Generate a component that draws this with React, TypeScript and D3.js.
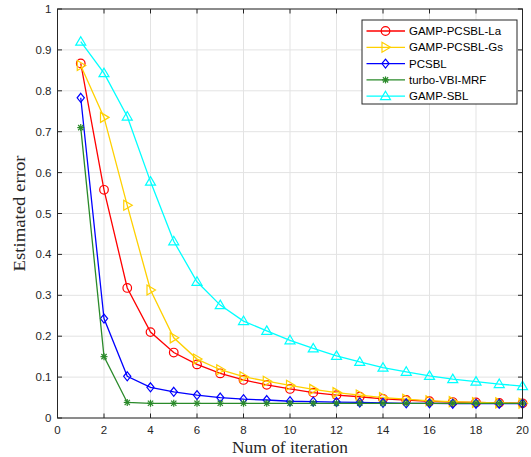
import React from "react";
import * as d3 from "d3";

const iterations = d3.range(1, 21);
const gampPcsblLa = [0.867, 0.558, 0.318, 0.21, 0.16, 0.131, 0.109, 0.093, 0.081, 0.071, 0.062, 0.056, 0.052, 0.047, 0.044, 0.041, 0.039, 0.038, 0.037, 0.036];
const gampPcsblGs = [0.862, 0.735, 0.52, 0.313, 0.196, 0.144, 0.118, 0.101, 0.09, 0.08, 0.07, 0.062, 0.056, 0.05, 0.046, 0.042, 0.04, 0.038, 0.037, 0.036];
const pcsbl = [0.783, 0.243, 0.102, 0.075, 0.064, 0.056, 0.05, 0.046, 0.044, 0.041, 0.04, 0.039, 0.038, 0.037, 0.036, 0.036, 0.035, 0.035, 0.035, 0.035];
const turboVbiMrf = [0.71, 0.15, 0.038, 0.036, 0.036, 0.036, 0.036, 0.036, 0.036, 0.036, 0.036, 0.036, 0.036, 0.036, 0.036, 0.036, 0.036, 0.036, 0.036, 0.036];
const gampSbl = [0.92, 0.843, 0.737, 0.578, 0.432, 0.333, 0.276, 0.237, 0.213, 0.19, 0.17, 0.152, 0.137, 0.123, 0.113, 0.103, 0.095, 0.089, 0.083, 0.078];

const seriesNames = ["GAMP-PCSBL-La", "GAMP-PCSBL-Gs", "PCSBL", "turbo-VBI-MRF", "GAMP-SBL"];
const seriesColors = ["#ff0000", "#ffd000", "#0000ff", "#2a8a2a", "#00ffff"];
const seriesMarkers = ["circle", "triRight", "diamond", "asterisk", "triUp"];
const seriesValues = [gampPcsblLa, gampPcsblGs, pcsbl, turboVbiMrf, gampSbl];

const xTicks = d3.range(0, 21, 2);
const yTicks = d3.range(0, 11).map((d) => d / 10);

const W = 531, H = 457;
const L = 57.5, R = 522.5, T = 9, B = 418;

function Marker({ type, x, y, color }: { type: string; x: number; y: number; color: string }) {
  const s = 4.5;
  const common = { fill: "none", stroke: color, strokeWidth: 1.2 };
  if (type === "circle") return <circle cx={x} cy={y} r={4.3} {...common} />;
  if (type === "diamond")
    return <path d={`M${x},${y - s}L${x + s * 0.8},${y}L${x},${y + s}L${x - s * 0.8},${y}Z`} {...common} />;
  if (type === "triUp")
    return <path d={`M${x},${y - s - 0.5}L${x + s + 0.5},${y + s - 1}L${x - s - 0.5},${y + s - 1}Z`} {...common} />;
  if (type === "triRight")
    return <path d={`M${x + s + 0.5},${y}L${x - s + 1},${y - s - 0.5}L${x - s + 1},${y + s + 0.5}Z`} {...common} />;
  const a = 3.5;
  return (
    <g stroke={color} strokeWidth={1.2}>
      <line x1={x - a} y1={y} x2={x + a} y2={y} />
      <line x1={x} y1={y - a} x2={x} y2={y + a} />
      <line x1={x - a * 0.75} y1={y - a * 0.75} x2={x + a * 0.75} y2={y + a * 0.75} />
      <line x1={x - a * 0.75} y1={y + a * 0.75} x2={x + a * 0.75} y2={y - a * 0.75} />
    </g>
  );
}

export default function App() {
  const x = d3.scaleLinear().domain([0, 20]).range([L, R]);
  const y = d3.scaleLinear().domain([0, 1]).range([B, T]);
  const line = d3
    .line<number>()
    .x((_, i) => x(iterations[i]))
    .y((d) => y(d));
  const tickFont = "Liberation Sans, Arial, sans-serif";
  const legX = 362, legY = 20, legW = 155, legH = 84, rowH = 16.3;
  return (
    <svg width={W} height={H} style={{ position: "absolute", left: 0, top: 0, background: "#fff" }}>
      <rect x={0} y={0} width={W} height={H} fill="#fff" />
      {/* grid */}
      {xTicks.map((t) => (
        <line key={"gx" + t} x1={x(t)} x2={x(t)} y1={T} y2={B} stroke="#e3e3e3" strokeWidth={1} />
      ))}
      {yTicks.map((t) => (
        <line key={"gy" + t} x1={L} x2={R} y1={y(t)} y2={y(t)} stroke="#e3e3e3" strokeWidth={1} />
      ))}
      {/* series */}
      {seriesValues.map((vals, si) => (
        <g key={seriesNames[si]}>
          <path d={line(vals) || ""} fill="none" stroke={seriesColors[si]} strokeWidth={1.3} />
          {vals.map((v, i) => (
            <Marker key={i} type={seriesMarkers[si]} x={x(iterations[i])} y={y(v)} color={seriesColors[si]} />
          ))}
        </g>
      ))}
      {/* axes box */}
      <rect x={L} y={T} width={R - L} height={B - T} fill="none" stroke="#262626" strokeWidth={1} />
      {xTicks.map((t) => (
        <g key={"xt" + t}>
          <line x1={x(t)} x2={x(t)} y1={B} y2={B - 4.5} stroke="#262626" />
          <line x1={x(t)} x2={x(t)} y1={T} y2={T + 4.5} stroke="#262626" />
          <text x={x(t)} y={B + 16} textAnchor="middle" fontFamily={tickFont} fontSize={11.5} fill="#262626">
            {t}
          </text>
        </g>
      ))}
      {yTicks.map((t) => (
        <g key={"yt" + t}>
          <line x1={L} x2={L + 4.5} y1={y(t)} y2={y(t)} stroke="#262626" />
          <line x1={R} x2={R - 4.5} y1={y(t)} y2={y(t)} stroke="#262626" />
          <text x={L - 6} y={y(t) + 4} textAnchor="end" fontFamily={tickFont} fontSize={11.5} fill="#262626">
            {t === 0 || t === 1 ? String(t) : t.toFixed(1)}
          </text>
        </g>
      ))}
      {/* axis labels */}
      <text
        x={(L + R) / 2}
        y={453}
        textAnchor="middle"
        fontFamily="Liberation Serif, serif"
        fontSize={16.5}
        textLength={116}
        lengthAdjust="spacingAndGlyphs"
        fill="#262626"
      >
        Num of iteration
      </text>
      <text
        transform={`translate(25,${(T + B) / 2}) rotate(-90)`}
        textAnchor="middle"
        fontFamily="Liberation Serif, serif"
        fontSize={16.5}
        textLength={116}
        lengthAdjust="spacingAndGlyphs"
        fill="#262626"
      >
        Estimated error
      </text>
      {/* legend */}
      <rect x={legX} y={legY} width={legW} height={legH} fill="#fff" stroke="#262626" strokeWidth={1} />
      {seriesNames.map((n, i) => {
        const cy = legY + 11 + i * rowH;
        return (
          <g key={"lg" + n}>
            <line x1={366.5} x2={405} y1={cy} y2={cy} stroke={seriesColors[i]} strokeWidth={1.3} />
            <Marker type={seriesMarkers[i]} x={385.5} y={cy} color={seriesColors[i]} />
            <text x={409} y={cy + 4} fontFamily={tickFont} fontSize={11.5} fill="#000">
              {n}
            </text>
          </g>
        );
      })}
    </svg>
  );
}
